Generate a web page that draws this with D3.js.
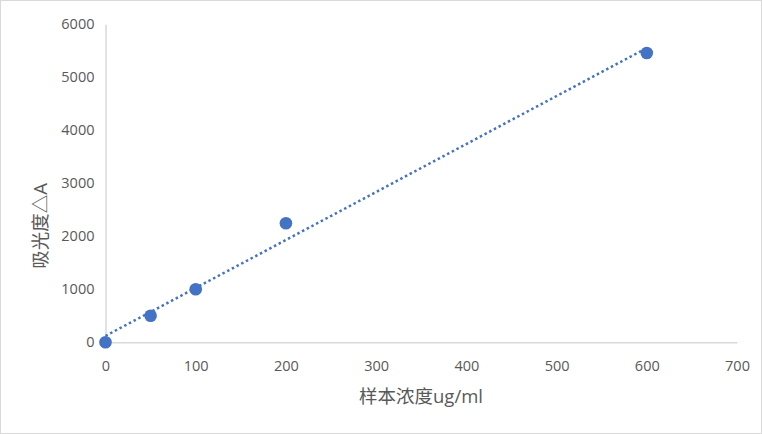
<!DOCTYPE html>
<html><head><meta charset="utf-8">
<script src="https://cdn.jsdelivr.net/npm/d3@7"></script>
<style>html,body{margin:0;padding:0;background:#fff;}svg{display:block;}</style>
</head><body>
<script>
const concentration = [0, 50, 100, 200, 600];
const absorbance = [0, 500, 1000, 2245, 5458];
const xTicks = [0, 100, 200, 300, 400, 500, 600, 700];
const yTicks = [0, 1000, 2000, 3000, 4000, 5000, 6000];
const xTitle = "样本浓度ug/ml";
const yTitle = "吸光度△A";

const W = 762, H = 434;
const svg = d3.select("body").append("svg").attr("width", W).attr("height", H);
svg.append("rect").attr("x", 0.5).attr("y", 0.5).attr("width", W - 1).attr("height", H - 1)
  .attr("fill", "#fff").attr("stroke", "#d9d9d9");

const x = d3.scaleLinear().domain([0, 700]).range([105.5, 737]);
const y = d3.scaleLinear().domain([0, 6000]).range([342.3, 24.3]);
const font = "'Open Sans','Noto Sans CJK SC',sans-serif";

// axes
const xAxis = svg.append("g").attr("transform", `translate(0,${y(0)})`)
  .call(d3.axisBottom(x).tickValues(xTicks).tickFormat(d3.format("d")).tickSize(0).tickPadding(18));
const yAxis = svg.append("g").attr("transform", `translate(${x(0)},0)`)
  .call(d3.axisLeft(y).tickValues(yTicks).tickFormat(d3.format("d")).tickSize(0).tickPadding(11));
[xAxis, yAxis].forEach(a => {
  a.select(".domain").attr("stroke", "#d9d9d9").attr("stroke-width", 1.5);
  a.selectAll("text").attr("fill", "#595959").style("font-family", font).style("font-size", "14.5px");
});
xAxis.selectAll("text").attr("dy", "0.71em");

// trendline (least squares)
const n = concentration.length;
const mx = d3.mean(concentration), my = d3.mean(absorbance);
let sxy = 0, sxx = 0;
for (let i = 0; i < n; i++) { sxy += (concentration[i]-mx)*(absorbance[i]-my); sxx += (concentration[i]-mx)**2; }
const slope = sxy / sxx, icpt = my - slope * mx;
const x0 = d3.min(concentration), x1 = d3.max(concentration);
svg.append("line")
  .attr("x1", x(x0)).attr("y1", y(icpt + slope*x0))
  .attr("x2", x(x1)).attr("y2", y(icpt + slope*x1))
  .attr("stroke", "#4472C4").attr("stroke-width", 2.5).attr("stroke-dasharray", "2.5 2.8");

// points
svg.selectAll("circle.pt").data(concentration).enter().append("circle")
  .attr("class", "pt")
  .attr("cx", d => x(d)).attr("cy", (d, i) => y(absorbance[i])).attr("r", 6.3)
  .attr("fill", "#4472C4");

// titles
svg.append("text").attr("x", 421).attr("y", 403).attr("text-anchor", "middle")
  .attr("fill", "#595959").style("font-family", font).style("font-size", "18.5px").text(xTitle);
svg.append("text").attr("transform", "translate(47,226) rotate(-90)").attr("text-anchor", "middle")
  .attr("fill", "#595959").style("font-family", font).style("font-size", "18.5px").text(yTitle);
</script>
</body></html>
